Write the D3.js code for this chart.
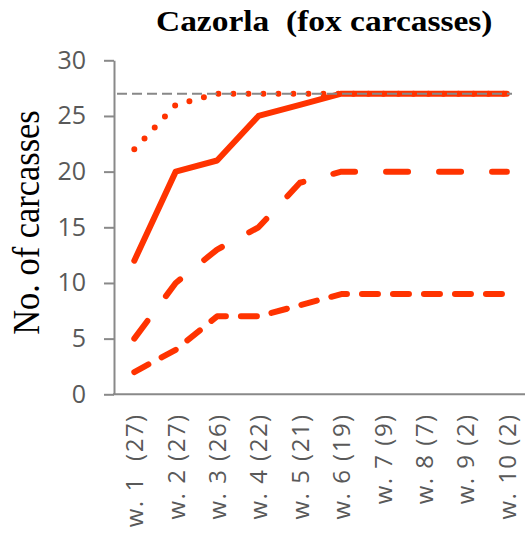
<!DOCTYPE html>
<html><head><meta charset="utf-8">
<script src="https://cdn.jsdelivr.net/npm/d3@7"></script>
<style>html,body{margin:0;padding:0;background:#fff;}svg{display:block;}</style>
</head><body>
<script>
const categories = ["w. 1  (27)","w. 2 (27)","w. 3 (26)","w. 4 (22)","w. 5 (21)","w. 6 (19)","w. 7 (9)","w. 8 (7)","w. 9 (2)","w. 10 (2)"];
const seriesDotted = [22,26,27,27,27,27,27,27,27,27];
const seriesSolid  = [12,20,21,25,26,27,27,27,27,27];
const seriesLongDash = [5,10,13,15,19,20,20,20,20,20];
const seriesShortDash = [2,4,7,7,8,9,9,9,9,9];
const referenceValue = 27;
const yTicks = [0,5,10,15,20,25,30];
const titleText = "Cazorla  (fox carcasses)";
const yTitle = "No. of carcasses";

const W = 525, H = 535;
const svg = d3.select("body").append("svg").attr("width", W).attr("height", H);
const x = d3.scalePoint().domain(categories).range([113.6, 527.6]).padding(0.5);
const y = d3.scaleLinear().domain([0,30]).range([394.3, 60.3]);
const red = "#FF3300", axisGrey = "#898989", textGrey = "#595959";

// title
svg.append("text").attr("transform","translate(156,30.5) scale(1.115,1)").attr("text-anchor","start")
  .attr("font-family","'Liberation Serif','Times New Roman',serif").attr("font-weight","bold")
  .attr("font-size", 30).attr("fill","#000").style("white-space","pre").text(titleText);

// y title
svg.append("text").attr("transform","translate(39,222.5) rotate(-90) scale(0.93,1)").attr("text-anchor","middle")
  .attr("font-family","'Liberation Serif','Times New Roman',serif")
  .attr("font-size", 37).attr("fill","#000").text(yTitle);

// y axis
const yAxis = svg.append("g").attr("transform","translate(114,0)")
  .call(d3.axisLeft(y).tickValues(yTicks).tickSize(10).tickSizeOuter(0).tickPadding(18));
yAxis.selectAll("path,line").attr("stroke", axisGrey).attr("stroke-width", 2);
yAxis.selectAll("text").attr("font-family","'Open Sans',sans-serif").attr("font-size",25).attr("fill",textGrey);

// x axis
const xAxis = svg.append("g").attr("transform",`translate(0,${y(0)})`)
  .call(d3.axisBottom(x).tickSize(0).tickSizeOuter(0).tickPadding(0));
xAxis.select(".domain").attr("d", `M113,0H${W}`).attr("stroke", axisGrey).attr("stroke-width", 2);
xAxis.selectAll("text").attr("font-family","'Open Sans',sans-serif").attr("font-size",24).attr("fill",textGrey)
  .attr("text-anchor","end").attr("dy","0.35em").attr("dx",0)
  .attr("letter-spacing", 1.5)
  .attr("transform","translate(0,19) rotate(-90)").attr("x",0).attr("y",0)
  .style("white-space","pre");

const line = d3.line().x((d,i)=>x(categories[i])).y(d=>y(d));
function drawSeries(vals, dash){
  svg.append("path").datum(vals).attr("d", line).attr("fill","none")
    .attr("stroke", red).attr("stroke-width", 6).attr("stroke-linecap","round").attr("stroke-linejoin","round")
    .attr("stroke-dasharray", dash);
}
drawSeries(seriesDotted, "0 15");
drawSeries(seriesSolid, null);
drawSeries(seriesLongDash, "22 31");
drawSeries(seriesShortDash, "16 15");

// reference line
svg.append("line").attr("x1", 117).attr("x2", 512).attr("y1", y(referenceValue)).attr("y2", y(referenceValue))
  .attr("stroke","#888").attr("stroke-width",2).attr("stroke-dasharray","10 5");
</script>
</body></html>
